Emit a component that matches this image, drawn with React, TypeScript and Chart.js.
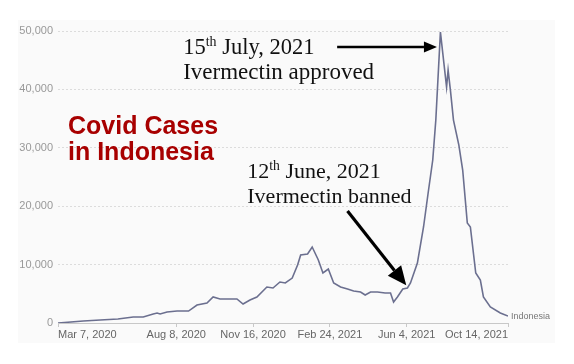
import React, { useEffect, useRef } from "react";
import { Chart, registerables } from "chart.js";

Chart.register(...registerables);

// Days since Mar 7, 2020 (7-day average of new cases, Indonesia)
const days = [0, 33, 55, 78, 98, 111, 124, 129, 133, 142, 155, 170, 181, 194, 202, 211, 220, 233, 241, 250, 259, 272, 280, 289, 296, 305, 312, 316, 325, 331, 339, 345, 352, 359, 368, 377, 385, 394, 400, 407, 416, 426, 433, 437, 442, 449, 455, 459, 468, 476, 482, 488, 492, 498, 506, 508, 511, 515, 522, 527, 533, 537, 544, 550, 554, 563, 576, 586];
const cases = [0, 340, 510, 680, 1030, 1030, 1540, 1710, 1540, 1880, 2050, 2050, 3080, 3420, 4450, 4110, 4110, 4110, 3250, 3940, 4450, 6160, 5990, 7020, 6850, 7700, 9930, 11640, 11810, 13010, 10790, 8560, 9240, 6850, 6160, 5820, 5480, 5310, 4790, 5310, 5310, 5140, 5140, 3600, 4450, 5820, 5990, 6850, 10270, 16440, 22260, 27910, 34750, 49820, 40400, 43310, 39890, 34750, 30470, 26190, 17120, 16440, 8560, 7360, 4450, 2740, 1710, 1200];

const tickDays = [0, 154, 254, 354, 454, 586];
const tickLabels = ["Mar 7, 2020", "Aug 8, 2020", "Nov 16, 2020", "Feb 24, 2021", "Jun 4, 2021", "Oct 14, 2021"];
const yTicks = [0, 10000, 20000, 30000, 40000, 50000];

const seriesName = "Indonesia";
const titleLines = ["Covid Cases", "in Indonesia"];

function drawArrow(ctx: CanvasRenderingContext2D, x1: number, y1: number, x2: number, y2: number, headLen: number, headW: number, lw: number) {
  const ang = Math.atan2(y2 - y1, x2 - x1);
  const bx = x2 - headLen * Math.cos(ang);
  const by = y2 - headLen * Math.sin(ang);
  ctx.save();
  ctx.strokeStyle = "#000";
  ctx.fillStyle = "#000";
  ctx.lineWidth = lw;
  ctx.beginPath();
  ctx.moveTo(x1, y1);
  ctx.lineTo(bx, by);
  ctx.stroke();
  ctx.beginPath();
  ctx.moveTo(x2, y2);
  ctx.lineTo(bx + (headW / 2) * Math.sin(ang), by - (headW / 2) * Math.cos(ang));
  ctx.lineTo(bx - (headW / 2) * Math.sin(ang), by + (headW / 2) * Math.cos(ang));
  ctx.closePath();
  ctx.fill();
  ctx.restore();
}

function drawSupText(ctx: CanvasRenderingContext2D, x: number, y: number, parts: [string, boolean][], size: number, family: string) {
  let cx = x;
  for (const [t, sup] of parts) {
    const s = sup ? size * 0.62 : size;
    ctx.font = `${s}px ${family}`;
    ctx.fillText(t, cx, sup ? y - size * 0.36 : y);
    cx += ctx.measureText(t).width;
  }
}

const bgPlugin = {
  id: "bg",
  beforeDraw(chart: any) {
    const ctx = chart.ctx;
    ctx.save();
    ctx.fillStyle = "#ffffff";
    ctx.fillRect(0, 0, chart.width, chart.height);
    ctx.fillStyle = "#fafafa";
    ctx.fillRect(18, 20, 537, 323);
    ctx.restore();
  },
};

const annotPlugin = {
  id: "annot",
  afterDraw(chart: any) {
    const ctx: CanvasRenderingContext2D = chart.ctx;
    const xs = chart.scales.x;
    const ys = chart.scales.y;
    const px = (d: number) => xs.getPixelForValue(d);
    const py = (v: number) => ys.getPixelForValue(v);
    ctx.save();
    // series label at line end
    ctx.fillStyle = "#777";
    ctx.font = "9px 'Liberation Sans', Arial, sans-serif";
    ctx.textBaseline = "middle";
    ctx.textAlign = "left";
    const lastI = days.length - 1;
    ctx.fillText(seriesName, px(days[lastI]) + 3, py(cases[lastI]) + 1);

    // title
    ctx.textBaseline = "alphabetic";
    ctx.fillStyle = "#a80000";
    ctx.font = "bold 25px 'Liberation Sans', Arial, sans-serif";
    ctx.fillText(titleLines[0], 68, 134);
    ctx.fillText(titleLines[1], 68, 160);

    // annotation texts
    ctx.fillStyle = "#111";
    const serif = "'Liberation Serif', 'Times New Roman', serif";
    drawSupText(ctx, px(163), py(46050), [["15", false], ["th", true], [" July, 2021", false]], 22.5, serif);
    ctx.font = `23px ${serif}`;
    ctx.fillText("Ivermectin approved", px(163), py(41770));
    drawSupText(ctx, px(246.5), py(24820), [["12", false], ["th", true], [" June, 2021", false]], 22, serif);
    ctx.font = `22px ${serif}`;
    ctx.fillText("Ivermectin banned", px(246.5), py(20540));

    // arrows
    drawArrow(ctx, px(363.5), py(47250), px(493.5), py(47250), 13, 11, 2.6);
    drawArrow(ctx, px(377), py(19170), px(453.5), py(6450), 19, 17, 3.2);
    ctx.restore();
  },
};

export default function App() {
  const ref = useRef<HTMLCanvasElement>(null);
  useEffect(() => {
    document.body.style.margin = "0";
    const canvas = ref.current!;
    const chart = new Chart(canvas, {
      type: "line",
      data: {
        datasets: [
          {
            label: seriesName,
            data: days.map((d, i) => ({ x: d, y: cases[i] })),
            borderColor: "#6b6f8f",
            borderWidth: 1.6,
            pointRadius: 0,
            tension: 0,
            fill: false,
          },
        ],
      },
      options: {
        animation: false,
        responsive: false,
        maintainAspectRatio: false,
        layout: { padding: { left: 0, right: 66, top: 31, bottom: 0 } },
        plugins: { legend: { display: false }, tooltip: { enabled: false } },
        scales: {
          x: {
            type: "linear",
            min: tickDays[0],
            max: tickDays[tickDays.length - 1],
            afterBuildTicks: (s: any) => {
              s.ticks = tickDays.map((v) => ({ value: v }));
            },
            afterFit: (s: any) => {
              s.height = 41;
            },
            ticks: {
              autoSkip: false,
              maxRotation: 0,
              align: "inner",
              padding: 1,
              color: "#666",
              font: { family: "'Liberation Sans', Arial, sans-serif", size: 11 },
              callback: (v: any) => {
                const i = tickDays.indexOf(Number(v));
                return i >= 0 ? tickLabels[i] : "";
              },
            },
            grid: { drawOnChartArea: false, tickLength: 4, color: "#c8c8c8" },
            border: { color: "#c8c8c8" },
          },
          y: {
            min: yTicks[0],
            max: yTicks[yTicks.length - 1],
            afterBuildTicks: (s: any) => {
              s.ticks = yTicks.map((v) => ({ value: v }));
            },
            afterFit: (s: any) => {
              s.width = 58;
            },
            ticks: {
              padding: 5,
              color: "#999",
              font: { family: "'Liberation Sans', Arial, sans-serif", size: 11 },
              callback: (v: any) => Number(v).toLocaleString("en-US"),
            },
            grid: { color: "#dcdcdc", drawTicks: false },
            border: { display: false, dash: [2, 2] },
          },
        },
      },
      plugins: [bgPlugin, annotPlugin],
    } as any);
    return () => chart.destroy();
  }, []);
  return (
    <div style={{ width: 574, height: 364 }}>
      <canvas ref={ref} width={574} height={364} style={{ display: "block", width: 574, height: 364 }} />
    </div>
  );
}
